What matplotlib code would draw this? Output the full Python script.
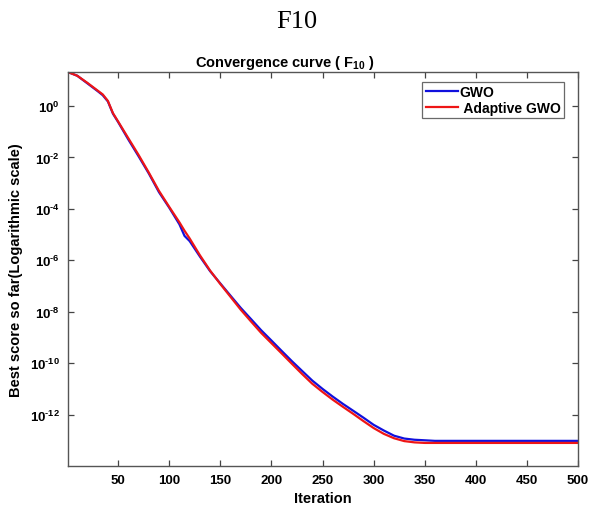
import numpy as np
import matplotlib
matplotlib.use("Agg")
import matplotlib.pyplot as plt

iterations = [1, 10, 20, 30, 35, 40, 45, 50, 60, 70, 80, 90, 100, 110, 115, 120,
              130, 140, 150, 160, 170, 180, 190, 200, 210, 220, 230, 240, 250, 260,
              270, 280, 290, 300, 310, 320, 330, 340, 350, 360, 500]

gwo = [20.9, 15.1, 7.59, 3.80, 2.63, 1.51, 0.501, 0.240, 5.0e-2, 1.12e-2, 2.4e-3,
       4.47e-4, 1.12e-4, 2.51e-5, 8.9e-6, 5.6e-6, 1.41e-6, 3.8e-7, 1.26e-7, 4.2e-8,
       1.41e-8, 5.2e-9, 1.9e-9, 7.6e-10, 3.0e-10, 1.2e-10, 5.0e-11, 2.1e-11, 1.0e-11,
       5.0e-12, 2.6e-12, 1.41e-12, 7.6e-13, 4.0e-13, 2.4e-13, 1.51e-13, 1.17e-13,
       1.05e-13, 1.0e-13, 9.5e-14, 9.5e-14]

adaptive_gwo = [20.9, 15.1, 7.94, 3.98, 2.82, 1.58, 0.525, 0.251, 5.6e-2, 1.26e-2,
                2.6e-3, 5.0e-4, 1.2e-4, 3.0e-5, 1.41e-5, 7.1e-6, 1.58e-6, 4.0e-7,
                1.2e-7, 3.8e-8, 1.2e-8, 4.2e-9, 1.5e-9, 6.0e-10, 2.4e-10, 9.5e-11,
                3.8e-11, 1.58e-11, 7.6e-12, 3.8e-12, 2.0e-12, 1.07e-12, 5.6e-13,
                3.0e-13, 1.78e-13, 1.2e-13, 9.3e-14, 8.3e-14, 7.9e-14, 7.9e-14, 7.9e-14]

series_names = ["GWO", " Adaptive GWO"]
x_ticks = [50, 100, 150, 200, 250, 300, 350, 400, 450, 500]
y_exponents = [0, -2, -4, -6, -8, -10, -12]

plt.rcParams['font.family'] = ['Liberation Sans', 'DejaVu Sans']
plt.rcParams['font.weight'] = 'bold'
plt.rcParams['axes.unicode_minus'] = False
plt.rcParams['mathtext.fontset'] = 'custom'
plt.rcParams['mathtext.rm'] = 'Liberation Sans:bold'
plt.rcParams['mathtext.bf'] = 'Liberation Sans:bold'
plt.rcParams['mathtext.it'] = 'Liberation Sans:bold'

fig = plt.figure(figsize=(5.94, 5.10), dpi=100)
ax = fig.add_axes([0.1145, 0.0843, 0.8586, 0.7725])

ax.semilogy(iterations, gwo, color='#1010dd', lw=1.6, label=series_names[0])
ax.semilogy(iterations, adaptive_gwo, color='#ee1515', lw=1.6, label=series_names[1])

ax.set_xlim(1, 500)
ax.set_ylim(1e-14, 21)
ax.set_xticks(x_ticks)
ax.set_yticks([10.0 ** e for e in y_exponents])
ax.set_yticklabels([r"$\mathdefault{10^{\text{%d}}}$" % e for e in y_exponents])
ax.yaxis.set_minor_locator(matplotlib.ticker.NullLocator())
ax.tick_params(direction='in', length=4, width=0.9, top=True, right=True,
               labelsize=9.5, colors='#444444', labelcolor='black', pad=6)
for s in ax.spines.values():
    s.set_color('#555555')
    s.set_linewidth(1.0)

ax.set_xlabel("Iteration", fontsize=10.5, fontweight='bold', labelpad=3)
ax.set_ylabel("Best score so far(Logarithmic scale)", fontsize=10.5, fontweight='bold', labelpad=5)
fig.text(285 / 594, 1 - 63 / 510, r"Convergence curve ( F$_{10}$ )", fontsize=10.5,
         fontweight='bold', ha='center', va='center')

leg = ax.legend(loc='upper right', fontsize=10, handlelength=2.3, frameon=True,
                fancybox=False, borderpad=0.25, labelspacing=0.1, handletextpad=0.15,
                borderaxespad=0.7, bbox_to_anchor=(0.992, 1.0))
leg.get_frame().set_edgecolor('#444444')
leg.get_frame().set_linewidth(0.9)

fig.text(0.5, 1 - 22 / 510, "F10", ha='center', va='center', fontsize=19,
         family='Liberation Serif', fontweight='normal')

fig.savefig("out.png", dpi=100)
